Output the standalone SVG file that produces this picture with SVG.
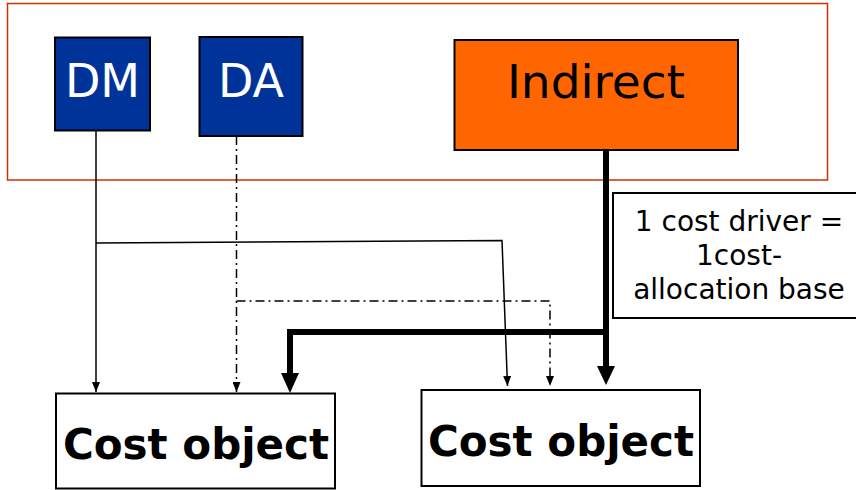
<svg xmlns="http://www.w3.org/2000/svg" width="856" height="490" viewBox="0 0 856 490">
<defs>
<style>
.box{stroke:#000;stroke-width:2}
.lbl{font-family:"DejaVu Sans",Verdana,sans-serif;text-anchor:middle}
.thin{fill:none;stroke:#000;stroke-width:1.5}
.dd{fill:none;stroke:#000;stroke-width:1.5;stroke-dasharray:9 4 2 4}
.thick{fill:none;stroke:#000;stroke-width:6}
</style>
<marker id="ah" viewBox="0 0 10 10" refX="10" refY="5" markerWidth="10" markerHeight="8" markerUnits="userSpaceOnUse" orient="auto" preserveAspectRatio="none"><path d="M0,0 L10,5 L0,10 z" fill="#000"/></marker>
</defs>
<rect width="856" height="490" fill="#fff"/>
<rect id="frame" x="7.5" y="3.5" width="820" height="176.5" fill="none" stroke="#CC3300" stroke-width="1.5"/>
<g id="connectors">
<path class="thin" d="M96,131 V392" marker-end="url(#ah)"/>
<path class="thin" d="M96,243 L502,240.5 L507.5,386" marker-end="url(#ah)"/>
<path class="dd" d="M236.5,136 V392" marker-end="url(#ah)"/>
<path class="dd" d="M236.5,301 H550 V386" marker-end="url(#ah)"/>
<path class="thick" d="M606,150 V368"/>
<path d="M597,366 L615,366 L606,385 z" fill="#000"/>
<path class="thick" d="M609,332 H290 V376"/>
<path d="M281,373 L299,373 L290,393 z" fill="#000"/>
</g>
<g id="dm"><rect class="box" x="55" y="37.5" width="95" height="93" fill="#003399"/><text class="lbl" x="102.5" y="96.5" font-size="46" fill="#fff">DM</text></g>
<g id="da"><rect class="box" x="199.5" y="37" width="103" height="99" fill="#003399"/><text class="lbl" x="251" y="96.5" font-size="46" fill="#fff">DA</text></g>
<g id="indirect"><rect class="box" x="454.5" y="40" width="283.5" height="110" fill="#FF6600"/><text class="lbl" x="596" y="98" font-size="47" fill="#000">Indirect</text></g>
<g id="note"><rect class="box" x="613" y="193" width="250" height="125" fill="#fff"/><text class="lbl" font-size="28" fill="#000"><tspan x="739" y="231">1 cost driver =</tspan><tspan x="739" y="265">1cost-</tspan><tspan x="739" y="299">allocation base</tspan></text></g>
<g id="co1"><rect class="box" x="56" y="393.5" width="279" height="95" fill="#fff"/><text class="lbl" x="196" y="459" font-size="42" font-weight="bold" fill="#000">Cost object</text></g>
<g id="co2"><rect class="box" x="421.5" y="390" width="278.5" height="96" fill="#fff"/><text class="lbl" x="561" y="456" font-size="42" font-weight="bold" fill="#000">Cost object</text></g>
</svg>
